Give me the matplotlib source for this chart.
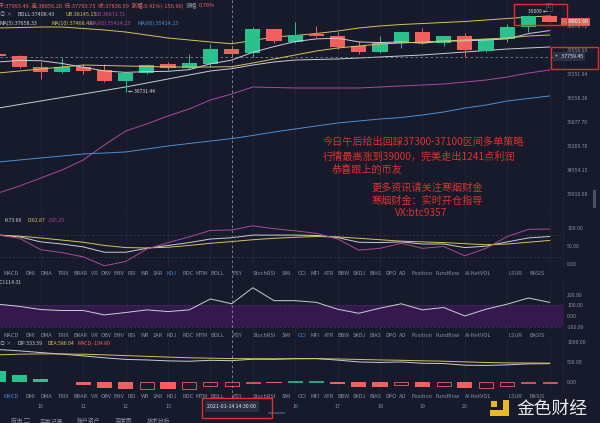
import numpy as np
import matplotlib
matplotlib.use('Agg')
import matplotlib.pyplot as plt
from matplotlib.patches import Rectangle
from matplotlib.lines import Line2D
from matplotlib.transforms import blended_transform_factory as blend

plt.rcParams['font.family'] = ['Noto Sans CJK SC', 'DejaVu Sans']

# ---- K线数据（30分钟） ----
opens = [37830, 37790, 37457, 37310, 37457, 37369, 37048, 37281, 37545, 37427,
         37545, 37993.49, 37870, 38588, 38197, 38437, 38377, 38078, 37899, 38167,
         38497, 38167, 38377, 37929, 38287, 38648, 38983]
highs = [37860, 37800, 37604, 37722, 37545, 37545, 37300, 37530, 37604, 37840,
         38137, 38056.20, 38648, 38600, 38800, 38679, 38497, 38227, 38377, 38510,
         38618, 38390, 38467, 38300, 38739, 39000, 39000]
lows = [37760, 37440, 37106, 37290, 37252, 37030, 36731.44, 37260, 37369, 37400,
        37457, 37760.73, 37751, 38167, 38180, 38360, 37988, 37840, 37880, 38018,
        38150, 38078, 37751, 37899, 38197, 38497, 38800]
closes = [37775, 37460, 37310, 37457, 37340, 37048, 37281, 37515, 37427, 37574,
          38000, 37836.59, 38588, 38227, 38407, 38377, 38048, 37899, 38167, 38497,
          38167, 38377, 37959, 38287, 38648, 38983, 38801.60]

# ---- 主图指标 ----
boll_ub = [38618, 38633, 38648, 38648, 38603, 38558, 38497, 38407, 38317, 38257,
           38197, 38145.15, 38242, 38347, 38392, 38452, 38527, 38618, 38679, 38724,
           38754, 38785, 38815, 38861, 38906, 38952, 38983]
boll_mid = [36272, 36373, 36473, 36573, 36673, 36774, 36875, 36990, 37106, 37223,
            37340, 37408.43, 37515, 37604, 37663, 37677, 37692, 37722, 37751, 37781,
            37810, 37855, 37899, 37944, 37988, 38018, 38048]
boll_lb = [33939, 34125, 34339, 34555, 34827, 35238, 35625, 35822, 36047, 36245,
           36501, 36671.71, 36875, 36860, 36846, 36846, 36846, 36846, 36875, 36904,
           36932, 36961, 37019, 37077, 37164, 37281, 37369]
ma5 = [37604, 37650, 37640, 37560, 37450, 37340, 37300, 37320, 37330, 37380,
       37550, 37658.33, 37890, 38060, 38210, 38290, 38310, 38200, 38180, 38200,
       38160, 38220, 38230, 38257, 38290, 38450, 38540]
ma10 = [37281, 37340, 37398, 37457, 37515, 37500, 37486, 37471, 37457, 37457,
        37457, 37466.48, 37574, 37692, 37810, 37929, 38018, 38078, 38137, 38167,
        38197, 38227, 38257, 38287, 38317, 38377, 38407]
ma60 = [34772, 34827, 34881, 34935, 34990, 35017, 35046, 35128, 35210, 35279,
        35348, 35414.23, 35501, 35598, 35682, 35766, 35850, 35906, 35962, 36004,
        36075, 36160, 36272, 36357, 36473, 36544, 36616]

# ---- 副图 ----
kdj_k = [81, 76, 62, 56, 48, 33, 33, 44, 52, 60, 70, 73.66, 81, 81, 81, 80, 74,
         61, 60, 62, 56, 56, 46, 50, 62, 73, 77]
kdj_d = [81, 78, 73, 67, 61, 52, 46, 45, 47, 52, 58, 62.87, 68, 72, 75, 77, 76,
         72, 68, 64, 62, 60, 57, 54, 56, 61, 66]
kdj_j = [81, 72, 40, 32, 20, -5, 7, 42, 60, 76, 94, 95.25, 107, 99, 93, 86, 70,
         39, 44, 58, 44, 49, 23, 44, 77, 97, 98]
cci = [110, 89, 60, 51, 51, 10, 32, 57, 41, 57, 159, 114.31, 264, 143, 143, 127,
       63, 25, 73, 114, 57, 79, 0, 63, 111, 168, 127]
dif = [816, 783, 740, 700, 655, 607, 566, 552, 529, 519, 543, 533.59, 571, 568,
       586, 588, 548, 502, 489, 502, 468, 461, 419, 413, 428, 453, 458]
dea = [682, 699, 706, 705, 697, 682, 662, 644, 625, 607, 597, 586.04, 584, 581,
       582, 583, 577, 565, 552, 544, 531, 520, 503, 488, 478, 474, 471]
macd = [267, 167, 67, -10, -83, -150, -192, -183, -192, -175, -108, -104.89, -25,
        -25, 8, 10, -58, -125, -125, -83, -125, -117, -167, -150, -100, -42, -25]

# 时间轴（被日期框和水印挡住的留空）
hour_labels = ['9', '10', '11', '12', '13', '', '', '16', '17', '18', '19', '20', '', '']
price_ticks = [38678.72, 37958.60, 37251.94, 36558.36, 35877.70, 35209.70, 34554.15, 33910.60]
kdj_ticks = [0, 50, 100]
cci_ticks = [-100, 0, 100, 200]
macd_ticks = [0, 500, 1000]
tabs = ['MACD', 'DMI', 'DMA', 'TRIX', 'BRAR', 'VR', 'OBV', 'EMV', 'RSI', 'WR', 'SAR',
        'KDJ', 'ROC', 'MTM', 'BOLL', 'PSY', 'StochRSI', 'SMI', 'CCI', 'MFI', 'ATR',
        'BBW', 'SKDJ', 'BIAS', 'DPO', 'AO', 'Position', 'Fundflow', 'AI-NetVOL',
        'LSUR', 'BASIS']
tab_x = [11.5, 30.6, 46, 64, 80, 94, 106, 119, 132, 145, 158, 172, 188, 202, 217,
         237, 264, 286, 302, 315, 329, 344, 359, 375, 391, 403, 422, 448, 478, 515, 537]

# ---- 颜色 ----
BG = '#161a2b'
GRID = '#222737'
TXT = '#8b90a1'
GREEN = '#2ac28c'
RED = '#f1605d'
YEL = '#d5c45a'
WHT = '#c9cdda'
PUR = '#b0489e'
BLU = '#4d8fd6'
ANNO = '#e3302b'

W, H = 600, 423
fig = plt.figure(figsize=(W / 100, H / 100), dpi=100, facecolor=BG)
renderer = fig.canvas.get_renderer()


def rect(x0, y0, x1, y1):
    return [x0 / W, 1 - y1 / H, (x1 - x0) / W, (y1 - y0) / H]


def fy(p):
    return 1 - p / H


x = np.arange(len(closes))
XL = (0.0755, 26.63)


def panel(r, ylim, ticks, fmt, log=False):
    a = fig.add_axes(rect(*r))
    a.set_facecolor(BG)
    if log:
        a.set_yscale('log')
    a.set_xlim(*XL)
    a.set_ylim(*ylim)
    for s in a.spines.values():
        s.set_visible(False)
    a.spines['right'].set_visible(True)
    a.spines['right'].set_color(GRID)
    a.spines['right'].set_linewidth(0.6)
    a.set_xticks(x[2::2])
    a.tick_params(axis='x', length=0, labelbottom=False)
    a.grid(axis='x', color=GRID, lw=0.6)
    a.yaxis.tick_right()
    a.set_yticks(ticks)
    a.set_yticklabels([fmt % t for t in ticks])
    a.yaxis.set_minor_locator(matplotlib.ticker.NullLocator())
    a.tick_params(axis='y', which='both', length=0, pad=3, labelsize=3.7, labelcolor=TXT)
    return a


def text_row(parts, px, py, size):
    # 一段接一段地排文字，颜色各自不同
    for s, col in parts:
        t = fig.text(px / W, fy(py), s, fontsize=size, color=col, va='center')
        px = t.get_window_extent(renderer).x1


# 主图
ax = panel((0, 0, 563, 215), (33358, 39474), price_ticks, '%.2f', log=True)
o = np.array(opens); c = np.array(closes)
cols = np.where(c >= o, GREEN, RED)
ax.vlines(x, lows, highs, colors=cols, lw=0.7, zorder=3)
ax.bar(x, np.abs(c - o), bottom=np.minimum(o, c), width=0.72, color=cols, zorder=3)
ax.plot(x, boll_ub, color=YEL, lw=0.7, zorder=2)
ax.plot(x, boll_mid, color=WHT, lw=0.7, zorder=2)
ax.plot(x, boll_lb, color=PUR, lw=0.7, zorder=2)
ax.plot(x, ma5, color=WHT, lw=0.7, zorder=4)
ax.plot(x, ma10, color=YEL, lw=0.7, zorder=4)
ax.plot(x, ma60, color=BLU, lw=0.7, zorder=2)
ax.axhline(37759.45, color='#7d8294', lw=0.6, ls=(0, (3, 3)))
ax.annotate('← 36731.44', (6, 36731.44), xytext=(2, 0), textcoords='offset points',
            fontsize=3.6, color='#d8dbe4', va='center')
ax.annotate('39000 ←', (25, 39000), xytext=(0, 1), textcoords='offset points',
            fontsize=3.6, color='#d8dbe4', va='bottom', ha='left')

# KDJ
ak = panel((0, 216, 563, 268), (-11.2, 134.5), kdj_ticks, '%.2f')
for lv in (80, 20):
    ak.axhline(lv, color='#3a3f52', lw=0.5, ls=(0, (3, 3)))
ak.plot(x, kdj_k, color=WHT, lw=0.7)
ak.plot(x, kdj_d, color=YEL, lw=0.7)
ak.plot(x, kdj_j, color=PUR, lw=0.7)

# CCI
acc = panel((0, 278, 563, 332), (-150, 355), cci_ticks, '%.2f')
acc.axhspan(-100, 100, color='#35194e', lw=0)
for lv in (100, -100):
    acc.axhline(lv, color='#4a3d63', lw=0.5, ls=(0, (3, 3)))
acc.plot(x, cci, color=WHT, lw=0.7)

# MACD
am = panel((0, 339, 563, 393), (-287, 1084), macd_ticks, '%.2f')
m = np.array(macd)
mcol = np.where(m >= 0, GREEN, RED)
prev = np.r_[m[0] + 1, m[:-1]]
hollow = m > prev
am.bar(x[~hollow], m[~hollow], width=0.72, color=mcol[~hollow], zorder=3)
am.bar(x[hollow], m[hollow], width=0.66, facecolor='none', edgecolor=mcol[hollow],
       lw=0.6, zorder=3)
am.plot(x, dif, color=WHT, lw=0.7)
am.plot(x, dea, color=YEL, lw=0.7)

# 十字光标竖线
fig.add_artist(Line2D([11, 11], [fy(0), fy(398)], transform=blend(ax.transData, fig.transFigure),
                      color='#8a8fa0', lw=0.6, ls=(0, (3, 3))))

# 标题行
text_row([('开:37993.49  高:38056.20  低:37760.73  收:37836.59  涨幅:0.41%(-156.90)  ', RED),
          ('振幅:', TXT), ('0.78%', RED)], -2, 5.5, 4.1)
fig.text(0 / W, fy(14.3), '◎ ×', fontsize=3.9, color=TXT, va='center')
for s, px, col in [('BOLL:37408.43', 17, WHT), ('UB:38145.15', 65, YEL), ('LB:36671.71', 96, PUR)]:
    fig.text(px / W, fy(14.3), s, fontsize=3.9, color=col, va='center')
for s, px, col in [('MA(5):37658.33', -1, WHT), ('MA(10):37466.48', 51, YEL),
                   ('MA(60):35414.23', 89, PUR), ('MA(60):35414.23', 138, BLU)]:
    fig.text(px / W, fy(23), s, fontsize=3.9, color=col, va='center')
for s, px, col in [('K:73.66', 4.5, WHT), ('D:62.87', 27, YEL), ('J:95.25', 48, PUR)]:
    fig.text(px / W, fy(220.7), s, fontsize=3.7, color=col, va='center')
fig.text(-3 / W, fy(283), 'CCI:114.31', fontsize=3.7, color=WHT, va='center')
fig.text(0 / W, fy(343.3), '◎ ×', fontsize=3.7, color=TXT, va='center')
for s, px, col in [('DIF:533.59', 17, WHT), ('DEA:586.04', 48, YEL), ('MACD:-104.89', 78, RED)]:
    fig.text(px / W, fy(343.3), s, fontsize=3.7, color=col, va='center')

# 指标切换栏
for row_y, hl in [(273.5, 'KDJ'), (335, 'CCI'), (396.5, 'MACD')]:
    for t, tx in zip(tabs, tab_x):
        fig.text(tx / W, fy(row_y), t, fontsize=4, ha='center', va='center',
                 color='#3f7fe0' if t == hl else TXT)

# 时间轴
tb = blend(ax.transData, fig.transFigure)
for i, lab in zip(x[::2], hour_labels):
    if lab:
        fig.text(i, fy(406), lab, transform=tb, fontsize=3.8, color=TXT, ha='center', va='center')
fig.text(11, fy(406.5), '2021-01-14 14:30:00', transform=tb, fontsize=3.8, color='#e6e8ee',
         ha='center', va='center',
         bbox=dict(boxstyle='square,pad=0.5', fc='#2a2f42', ec='none'))
fig.add_artist(Rectangle((268 / W, fy(414)), 17 / W, 2 / H, transform=fig.transFigure,
                         color='#3a4666', lw=0))

# 价格标签
pb = blend(fig.transFigure, ax.transData)
ax.text(563 / W, 38801.60, '- 38801.60', transform=pb, fontsize=3.8, color='white',
        va='center', ha='left', zorder=6, clip_on=False,
        bbox=dict(boxstyle='square,pad=0.35', fc='#e0605e', ec='none'))
ax.text(555 / W, 37759.45, '+   37759.45', transform=pb, fontsize=3.8, color='#e6e8ee',
        va='center', ha='left', zorder=6, clip_on=False,
        bbox=dict(boxstyle='square,pad=0.4', fc='#2c3245', ec='none'))
fig.text(549 / W, fy(7), 'L', fontsize=3.2, color=TXT, ha='center', va='center',
         bbox=dict(boxstyle='square,pad=0.3', fc='none', ec='#5b6072', lw=0.4))

# 红色文字
msg = [('今日午后给出回踩37300-37100区间多单策略', 323, 142),
       ('行情最高涨到39000，完美走出1241点利润', 323, 157),
       ('恭喜跟上的币友', 332, 169.5),
       ('更多资讯请关注寒烟财金', 372, 188),
       ('寒烟财金：实时开仓指导', 372, 201)]
for s, px, py in msg:
    fig.text(px / W, fy(py), s, fontsize=7.3, color=ANNO, va='center')
fig.text(421 / W, fy(213), 'VX:btc9357', fontsize=7.3, color=ANNO, va='center', ha='center')

# 红框
for x0, y0, x1, y1 in [(514, 4, 567, 25), (551, 47, 598, 69), (202, 398, 272, 418)]:
    fig.add_artist(Rectangle((x0 / W, fy(y1)), (x1 - x0) / W, (y1 - y0) / H,
                             transform=fig.transFigure, fill=False, ec=ANNO, lw=1.0))

# 右侧滚动条
fig.add_artist(Rectangle((593 / W, fy(208)), 3 / W, 18 / H, transform=fig.transFigure,
                         color='#4b5064', lw=0))

# 底部栏
for s, px in [('历史 ▢', 11), ('买卖记录', 40), ('账户资产', 77), ('深度图', 115), ('技术分析', 147)]:
    fig.text(px / W, fy(421), s, fontsize=4.2, color=TXT, va='center')

# 水印
fig.text(516 / W, fy(408.5), '金色财经', fontsize=12.8, color='#ececec', va='center', ha='left')
for x0, y0, x1, y1 in [(491, 401, 497, 407), (503, 400, 509, 416), (490, 410, 509, 416)]:
    fig.add_artist(Rectangle((x0 / W, fy(y1)), (x1 - x0) / W, (y1 - y0) / H,
                             transform=fig.transFigure, color='#e8b923', lw=0))

fig.savefig('out.png', dpi=100, facecolor=BG)
